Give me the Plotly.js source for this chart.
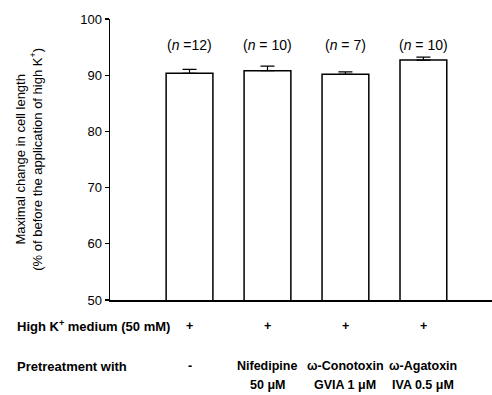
<!DOCTYPE html>
<html><head><meta charset="utf-8">
<script src="https://cdn.plot.ly/plotly-3.0.1.min.js"></script>
<style>body{margin:0;padding:0;background:#fff}#chart{width:492px;height:395px}</style>
</head><body><div id="chart"></div>
<script>
const categories = ["Control", "Nifedipine", "Conotoxin", "Agatoxin"];
const means = [90.35, 90.8, 90.15, 92.7];
const sems = [0.7, 0.8, 0.45, 0.5];
const nLabels = ["(<i>n</i> =12)", "(<i>n</i> = 10)", "(<i>n</i> = 7)", "(<i>n</i> = 10)"];
const highK = ["+", "+", "+", "+"];
const pretreatLine1 = ["-", "Nifedipine", "ω-Conotoxin", "ω-Agatoxin"];
const pretreatLine2 = ["", "50 μM", "GVIA 1 μM", "IVA 0.5 μM"];
const yTicks = [50, 60, 70, 80, 90, 100];

const xs = categories.map((c, i) => i);
const font = {family: "Liberation Sans, Arial, sans-serif", color: "#000"};
const f = (s) => Object.assign({}, font, {size: s});

const trace = {
  type: "bar", x: xs, y: means, width: 0.6,
  marker: {color: "#fff", line: {color: "#000", width: 1.5}},
  error_y: {type: "data", array: sems, arrayminus: sems.map(() => 0), symmetric: false,
            color: "#000", thickness: 1.2, width: 7},
  hoverinfo: "none"
};

const rowK = -0.094, row1 = -0.236, row2 = -0.304;
const ann = [];
xs.forEach((x, i) => {
  ann.push({x: x, y: 95.4, xref: "x", yref: "y", text: nLabels[i], showarrow: false, font: f(14)});
  ann.push({x: x, xref: "x", y: rowK, yref: "paper", yanchor: "middle", text: "<b>" + highK[i] + "</b>",
            showarrow: false, font: f(12.5)});
  ann.push({x: x, xref: "x", y: row1, yref: "paper", yanchor: "middle", text: "<b>" + pretreatLine1[i] + "</b>",
            showarrow: false, font: f(12.5)});
  if (pretreatLine2[i]) {
    ann.push({x: x, xref: "x", y: row2, yref: "paper", yanchor: "middle", text: "<b>" + pretreatLine2[i] + "</b>",
              showarrow: false, font: f(12.5)});
  }
});
ann.push({xref: "paper", x: -0.249, xanchor: "left", y: rowK, yref: "paper", yanchor: "middle",
          text: "<b>High K<sup>+</sup> medium (50 mM)</b>", showarrow: false, font: f(13)});
ann.push({xref: "paper", x: -0.249, xanchor: "left", y: row1, yref: "paper", yanchor: "middle",
          text: "<b>Pretreatment with</b>", showarrow: false, font: f(13)});
ann.push({xref: "paper", x: -0.214, xanchor: "center", y: 0.5, yref: "paper", yanchor: "middle", textangle: -90,
          text: "Maximal change in cell length<br>(% of before the application of high K<sup>+</sup>)",
          showarrow: false, font: f(13)});

const layout = {
  width: 492, height: 395,
  margin: {l: 110, r: 0, t: 19, b: 94.5},
  paper_bgcolor: "#fff", plot_bgcolor: "#fff",
  showlegend: false,
  font: font,
  xaxis: {range: [-1.02, 3.88], showticklabels: false, ticks: "", showgrid: false, zeroline: false,
          showline: true, linecolor: "#000", linewidth: 1.5},
  yaxis: {range: [50, 100], tickvals: yTicks, ticks: "outside", ticklen: 4, tickwidth: 1.2, tickcolor: "#000",
          showgrid: false, zeroline: false, showline: true, linecolor: "#000", linewidth: 1.5,
          tickfont: f(13)},
  annotations: ann
};
Plotly.newPlot("chart", [trace], layout, {staticPlot: true});
</script></body></html>
